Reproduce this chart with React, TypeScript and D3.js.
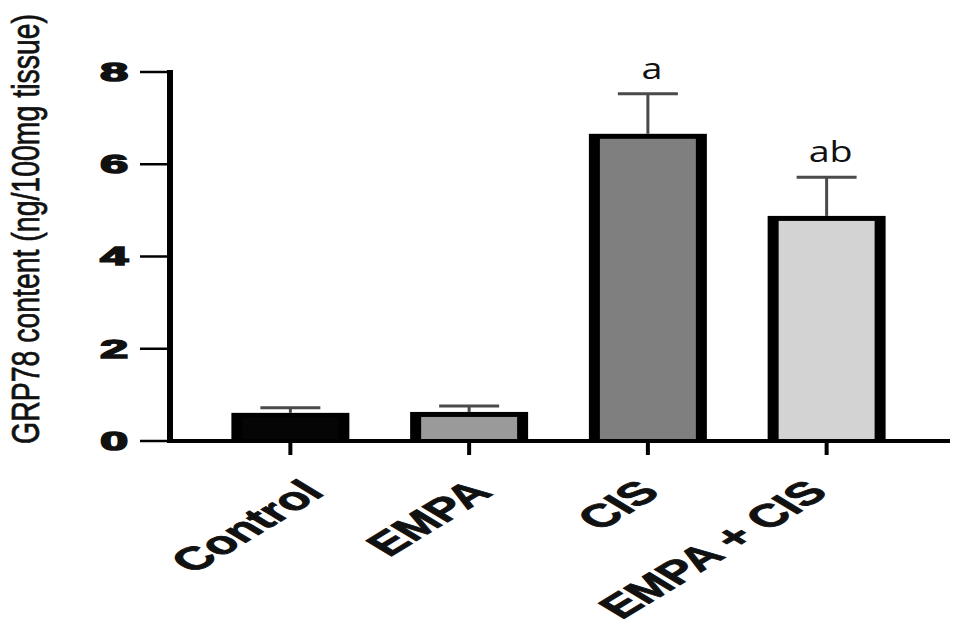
import React from 'react';
import * as d3 from 'd3';

const categories = ['Control', 'EMPA', 'CIS', 'EMPA + CIS'];
const means = [0.61, 0.63, 6.66, 4.88];
const sems = [0.11, 0.13, 0.87, 0.84];
const sigLetters = ['', '', 'a', 'ab'];
const yTicks = [0, 2, 4, 6, 8];
const yLabel = 'GRP78 content (ng/100mg tissue)';

const barFills = ['#050505', '#9a9a9a', '#7f7f7f', '#d3d3d3'];

export default function App() {
  const W = 970;
  const H = 634;
  const x = d3
    .scaleBand<string>()
    .domain(categories)
    .range([201, 916])
    .paddingInner(0.34)
    .paddingOuter(0.17);
  const y = d3.scaleLinear().domain([0, 8]).range([441, 72]);
  const labelX = d3.scalePoint<string>().domain(categories).range([326, 830]);
  const bw = x.bandwidth();
  const sx = 1.65;
  const font = "'Liberation Sans', Arial, sans-serif";

  return (
    <svg
      width={W}
      height={H}
      style={{ position: 'absolute', left: 0, top: 0, background: '#fff' }}
    >
      <rect x={0} y={0} width={W} height={H} fill="#fff" />
      {/* y axis title */}
      <text
        transform={`translate(39, 229) scale(1.38, 1) rotate(-90)`}
        textAnchor="middle"
        fontFamily={font}
        fontSize={28}
        textLength={430}
        lengthAdjust="spacingAndGlyphs"
        fill="#111"
        stroke="#111"
        strokeWidth={0.55}
      >
        {yLabel}
      </text>

      {/* bars */}
      {categories.map((c, i) => {
        const x0 = x(c)!;
        const top = y(means[i]);
        const base = y(0);
        return (
          <g key={c}>
            <rect x={x0} y={top} width={bw} height={base - top} fill="#000" />
            <rect
              x={x0 + 11}
              y={top + 5}
              width={bw - 22}
              height={Math.max(0, base - top - 5)}
              fill={barFills[i]}
            />
          </g>
        );
      })}

      {/* error bars */}
      {categories.map((c, i) => {
        const cx = x(c)! + bw / 2;
        const yt = y(means[i] + sems[i]);
        return (
          <g key={c + '-err'} stroke="#4a4a4a" strokeWidth={3}>
            <line x1={cx} x2={cx} y1={y(means[i])} y2={yt} />
            <line x1={cx - 30} x2={cx + 30} y1={yt} y2={yt} />
          </g>
        );
      })}

      {/* significance letters */}
      {categories.map((c, i) =>
        sigLetters[i] ? (
          <text
            key={c + '-sig'}
            transform={`translate(${x(c)! + bw / 2 + 4}, ${y(means[i] + sems[i]) - 15}) scale(1.3, 1)`}
            textAnchor="middle"
            fontFamily="'Open Sans', sans-serif"
            fontSize={29}
            fill="#111"
          >
            {sigLetters[i]}
          </text>
        ) : null
      )}

      {/* axes */}
      <line x1={168} x2={950} y1={y(0)} y2={y(0)} stroke="#000" strokeWidth={4} />
      <line x1={170} x2={170} y1={y(8) - 2} y2={y(0) + 2} stroke="#000" strokeWidth={6} />
      {yTicks.map((t) => (
        <g key={'yt' + t}>
          <line x1={140} x2={170} y1={y(t)} y2={y(t)} stroke="#000" strokeWidth={2.5} />
          <text
            transform={`translate(128, ${y(t)}) scale(2.0, 1)`}
            textAnchor="end"
            dominantBaseline="central"
            fontFamily={font}
            fontWeight="bold"
            fontSize={25}
            fill="#111"
            stroke="#111"
            strokeWidth={1.6}
          >
            {t}
          </text>
        </g>
      ))}
      {categories.map((c) => (
        <line
          key={c + '-xt'}
          x1={x(c)! + bw / 2}
          x2={x(c)! + bw / 2}
          y1={y(0)}
          y2={y(0) + 14}
          stroke="#000"
          strokeWidth={4}
        />
      ))}
      {categories.map((c) => (
        <text
          key={c + '-xl'}
          transform={`translate(${labelX(c)}, 494) scale(${sx}, 1) rotate(-45)`}
          textAnchor="end"
          fontFamily={font}
          fontWeight="bold"
          fontSize={32}
          fill="#111"
          stroke="#111"
          strokeWidth={0.8}
        >
          {c}
        </text>
      ))}
    </svg>
  );
}
